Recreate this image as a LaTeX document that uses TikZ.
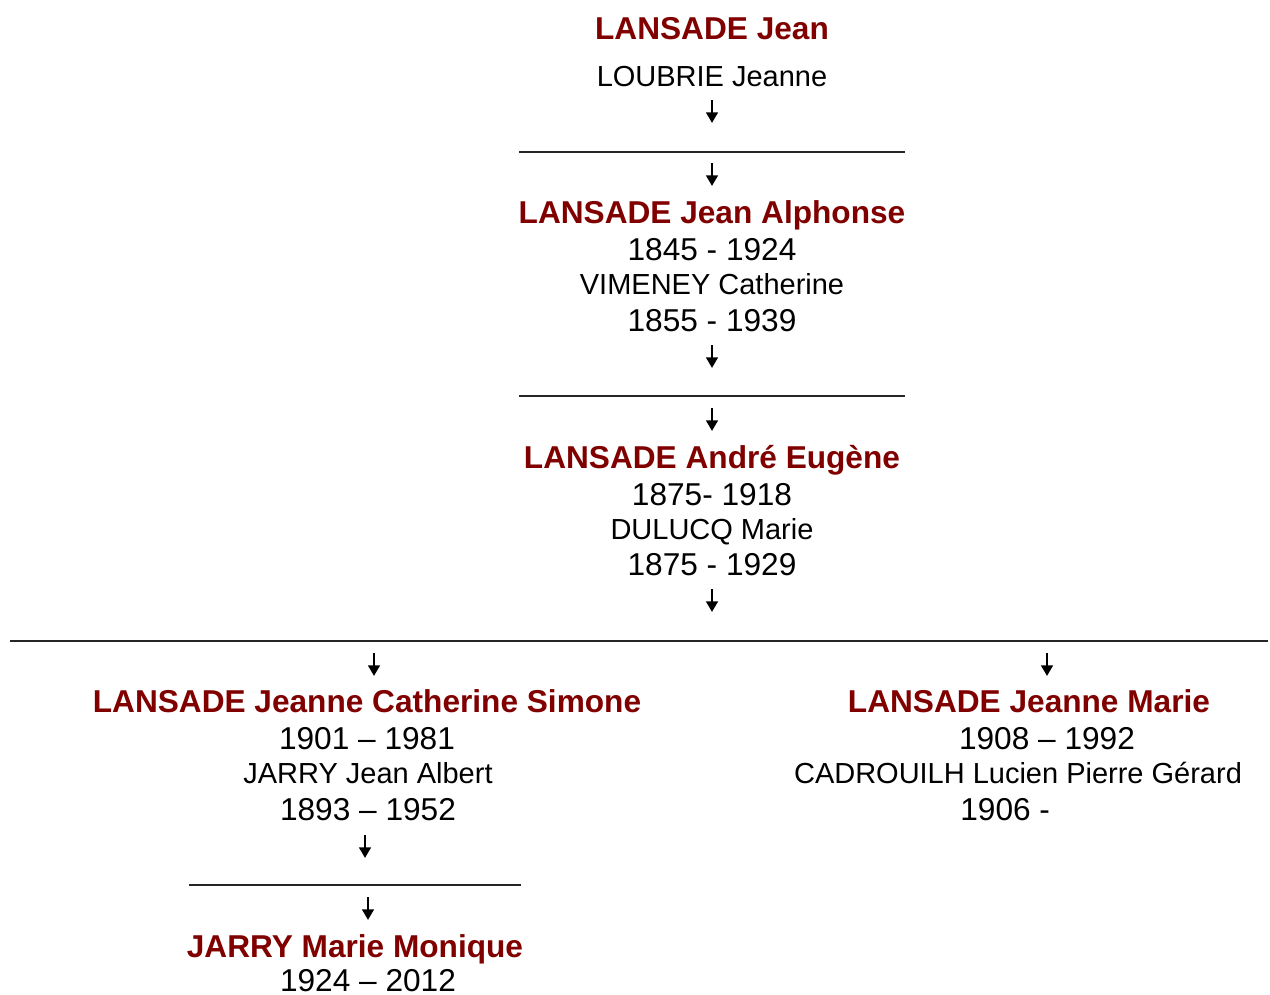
\documentclass[tikz,border=0pt]{standalone}
\usepackage{fontspec}
\setmainfont{Liberation Sans}
\usepackage{xcolor}
\usetikzlibrary{positioning,arrows.meta}
\definecolor{namered}{HTML}{800000}

\begin{document}
\begin{tikzpicture}[x=0.02cm, y=-0.02cm, person/.style={anchor=base, inner sep=0pt, text=namered, font=\fontsize{18}{20}\selectfont\bfseries}, years/.style={anchor=base, inner sep=0pt, font=\fontsize{18}{20}\selectfont}, spouse/.style={anchor=base, inner sep=0pt, font=\fontsize{16.5}{18}\selectfont}, descent/.style={-{Triangle[length=6pt,width=6.5pt]}, line width=1.5pt}, hline/.style={line width=0.8pt, draw=black!85}]
    \useasboundingbox (0,0) rectangle (1270,994);

    % generation 1
    \node[person] (J1) at (712,39) {LANSADE Jean};
    \node[spouse] (S1) at (712,86) {LOUBRIE Jeanne};
    \coordinate (a1s) at (712,100);
    \coordinate (a1e) at (712,123);
    \coordinate (l1w) at (519,152);
    \coordinate (l1e) at (905,152);
    \coordinate (a2s) at (712,163);
    \coordinate (a2e) at (712,186);

    % generation 2
    \node[person] (J2) at (712,223) {LANSADE Jean Alphonse};
    \node[years] (D2) at (712,260) {1845 - 1924};
    \node[spouse] (S2) at (712,294) {VIMENEY Catherine};
    \node[years] (E2) at (712,331) {1855 - 1939};
    \coordinate (a3s) at (712,345);
    \coordinate (a3e) at (712,368);
    \coordinate (l2w) at (519,396);
    \coordinate (l2e) at (905,396);
    \coordinate (a4s) at (712,408);
    \coordinate (a4e) at (712,431);

    % generation 3
    \node[person] (J3) at (712,468) {LANSADE André Eugène};
    \node[years] (D3) at (712,505) {1875- 1918};
    \node[spouse] (S3) at (712,539) {DULUCQ Marie};
    \node[years] (E3) at (712,575) {1875 - 1929};
    \coordinate (a5s) at (712,589);
    \coordinate (a5e) at (712,612);
    \coordinate (l3w) at (10,641);
    \coordinate (l3e) at (1268,641);

    % generation 4
    \coordinate (a6s) at (374,653);
    \coordinate (a6e) at (374,676);
    \coordinate (a7s) at (1047,653);
    \coordinate (a7e) at (1047,676);
    \node[person] (J4) at (367,712) {LANSADE Jeanne Catherine Simone};
    \node[years] (D4) at (367,749) {1901 – 1981};
    \node[spouse] (S4) at (368,783) {JARRY Jean Albert};
    \node[years] (E4) at (368,820) {1893 – 1952};
    \node[person] (J5) at (1029,712) {LANSADE Jeanne Marie};
    \node[years] (D5) at (1047,749) {1908 – 1992};
    \node[spouse] (S5) at (1018,783) {CADROUILH Lucien Pierre Gérard};
    \node[years, anchor=base west] (E5) at (960,820) {1906 -};
    \coordinate (a8s) at (365,835);
    \coordinate (a8e) at (365,858);
    \coordinate (l4w) at (189,885);
    \coordinate (l4e) at (521,885);
    \coordinate (a9s) at (368,897);
    \coordinate (a9e) at (368,920);

    % generation 5
    \node[person] (J6) at (355,957) {JARRY Marie Monique};
    \node[years] (D6) at (368,991) {1924 – 2012};

    \path[hline]
        (l1w) edge (l1e)
        (l2w) edge (l2e)
        (l3w) edge (l3e)
        (l4w) edge (l4e)
        ;
    \path[descent]
        (a1s) edge (a1e)
        (a2s) edge (a2e)
        (a3s) edge (a3e)
        (a4s) edge (a4e)
        (a5s) edge (a5e)
        (a6s) edge (a6e)
        (a7s) edge (a7e)
        (a8s) edge (a8e)
        (a9s) edge (a9e)
        ;
\end{tikzpicture}
\end{document}
